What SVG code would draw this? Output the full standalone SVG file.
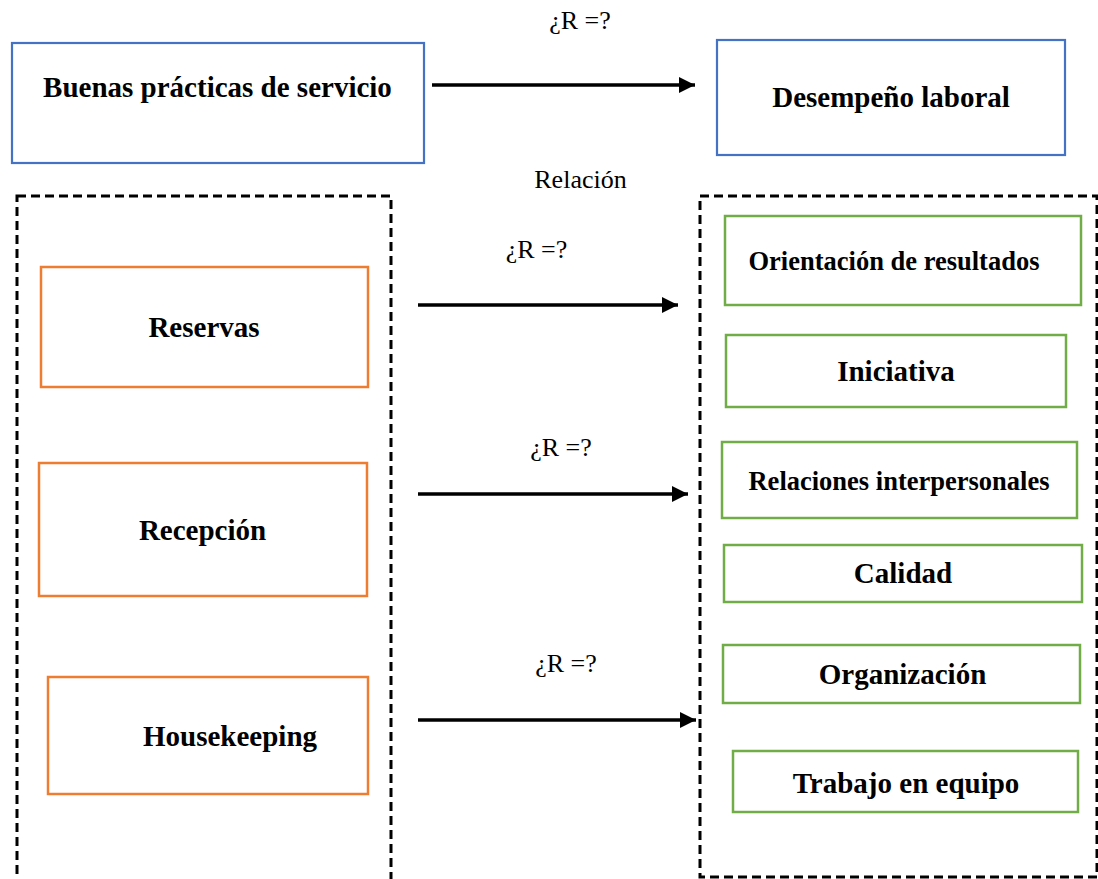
<svg xmlns="http://www.w3.org/2000/svg" width="1098" height="879" viewBox="0 0 1098 879">
<style>
.t{font-family:"Liberation Serif","Times New Roman",serif;fill:#000;text-anchor:middle}
.b{font-weight:bold;font-size:29px}
.l{font-size:26px}
.blue{fill:#fff;stroke:#4472C4;stroke-width:2.2}
.orange{fill:#fff;stroke:#ED7D31;stroke-width:2.5}
.green{fill:#fff;stroke:#70AD47;stroke-width:2.5}
.dash{fill:none;stroke:#000;stroke-width:3;stroke-dasharray:9 5}
.arr{stroke:#000;stroke-width:3.5;fill:none;marker-end:url(#ah)}
</style>
<defs>
<marker id="ah" markerUnits="userSpaceOnUse" markerWidth="17" markerHeight="16" refX="16" refY="8" orient="auto">
<path d="M0,0 L16,8 L0,16 z" fill="#000"/>
</marker>
</defs>
<rect width="1098" height="879" fill="#fff"/>
<g id="group-left"><rect class="dash" x="17" y="196" width="374" height="700"/></g>
<g id="group-right"><rect class="dash" x="700" y="196" width="397" height="681"/></g>
<g id="n-buenas"><rect class="blue" x="12" y="43" width="412" height="120"/><text class="t b" x="217.5" y="97">Buenas prácticas de servicio</text></g>
<g id="n-desempeno"><rect class="blue" x="717" y="40" width="348" height="115"/><text class="t b" x="891" y="107">Desempeño laboral</text></g>
<g id="n-reservas"><rect class="orange" x="41" y="267" width="327" height="120"/><text class="t b" x="204" y="337">Reservas</text></g>
<g id="n-recepcion"><rect class="orange" x="39" y="463" width="328" height="133"/><text class="t b" x="202.5" y="540">Recepción</text></g>
<g id="n-housekeeping"><rect class="orange" x="48" y="677" width="320" height="117"/><text class="t b" x="230" y="746">Housekeeping</text></g>
<g id="n-orientacion"><rect class="green" x="725" y="216" width="356" height="89"/><text class="t b" style="font-size:26.5px" x="894" y="270">Orientación de resultados</text></g>
<g id="n-iniciativa"><rect class="green" x="726" y="335" width="340" height="72"/><text class="t b" x="896" y="381">Iniciativa</text></g>
<g id="n-relaciones"><rect class="green" x="722" y="442" width="355" height="76"/><text class="t b" style="font-size:26.5px" x="899" y="490">Relaciones interpersonales</text></g>
<g id="n-calidad"><rect class="green" x="724" y="545" width="358" height="57"/><text class="t b" x="903" y="583">Calidad</text></g>
<g id="n-organizacion"><rect class="green" x="723" y="645" width="357" height="58"/><text class="t b" x="902.5" y="684">Organización</text></g>
<g id="n-trabajo"><rect class="green" x="733" y="751" width="345" height="61"/><text class="t b" x="906" y="793">Trabajo en equipo</text></g>
<g id="connectors">
<line class="arr" x1="432" y1="85" x2="695" y2="85"/>
<line class="arr" x1="418" y1="305" x2="678" y2="305"/>
<line class="arr" x1="418" y1="494" x2="688" y2="494"/>
<line class="arr" x1="418" y1="720" x2="696" y2="720"/>
</g>
<g id="labels">
<text class="t l" x="580" y="29">¿R =?</text>
<text class="t l" x="580.5" y="188">Relación</text>
<text class="t l" x="536.5" y="258">¿R =?</text>
<text class="t l" x="561" y="456">¿R =?</text>
<text class="t l" x="566" y="672">¿R =?</text>
</g>
</svg>
